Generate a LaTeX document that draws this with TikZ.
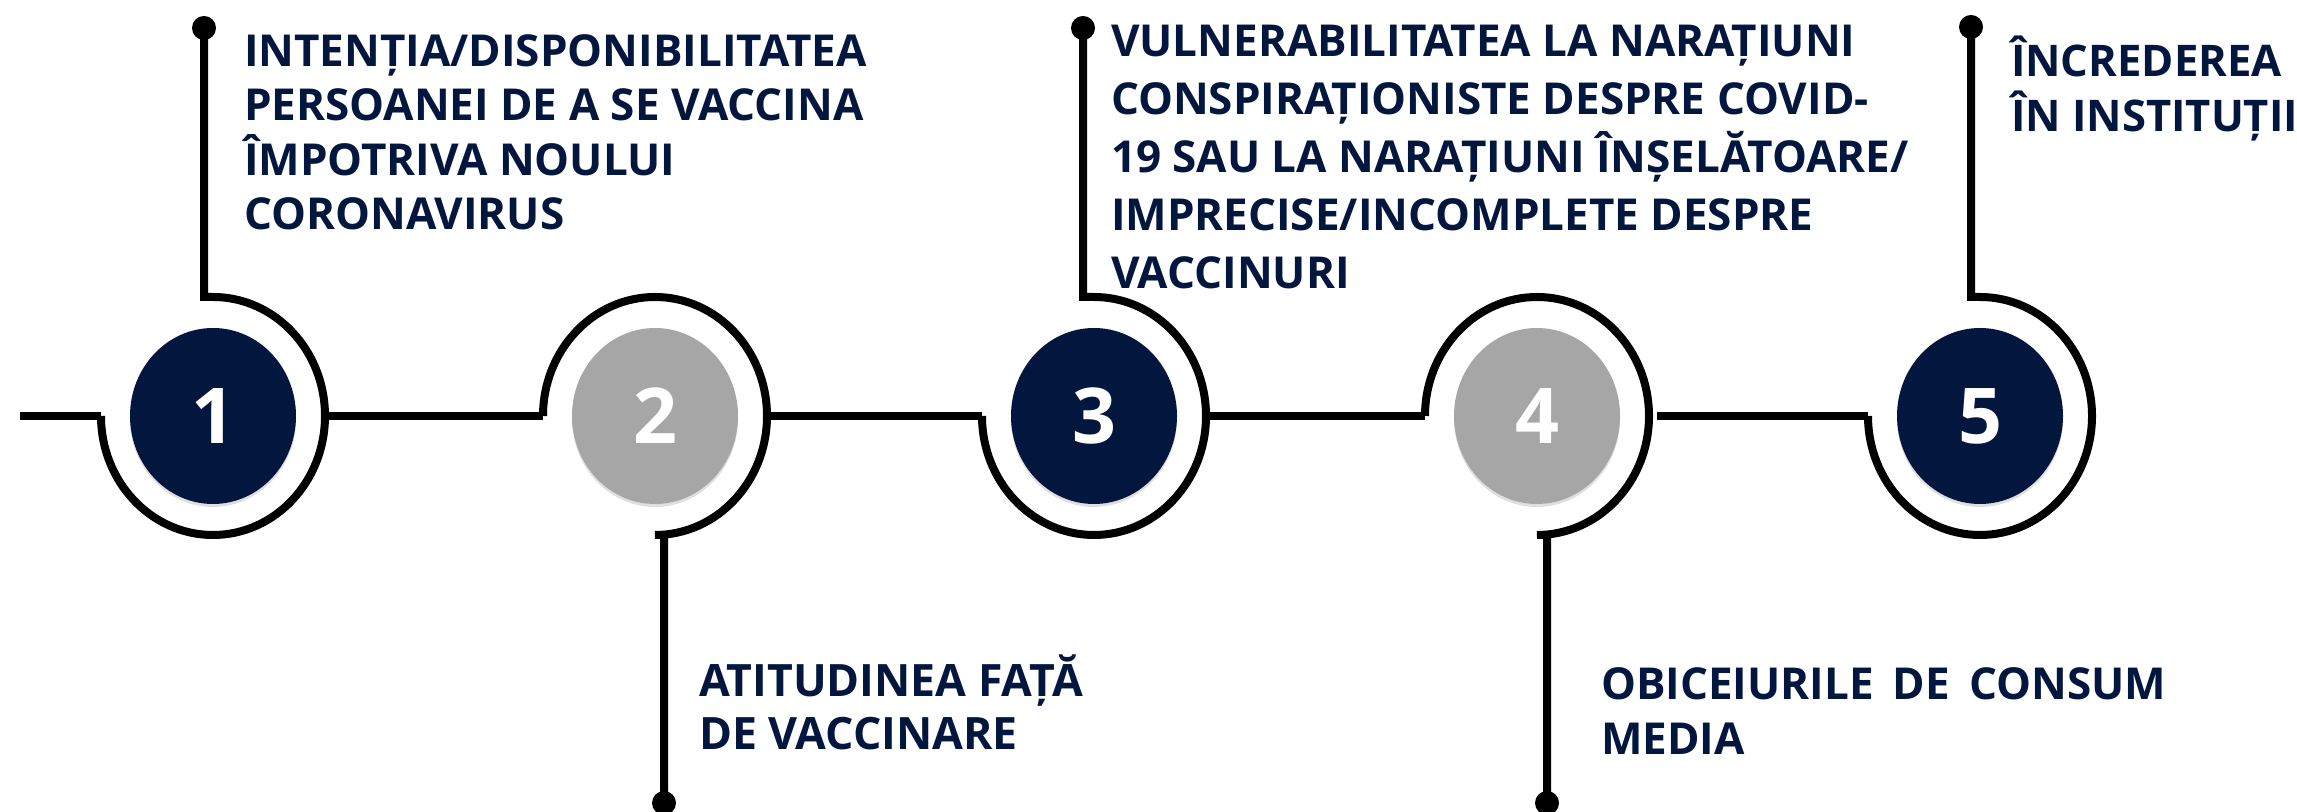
\documentclass[tikz,border=0pt]{standalone}
\usepackage{fontspec}
\setmainfont{Open Sans}
\usetikzlibrary{shapes.geometric,shadows}
\definecolor{navy}{HTML}{03173E}
\definecolor{stone}{HTML}{A6A6A6}

\begin{document}
\begin{tikzpicture}[x=0.5pt,y=0.5pt,line width=4pt]
  \tikzstyle{ring}=[ellipse,draw=none,inner sep=0pt,outer sep=0pt,
                    minimum width=112pt,minimum height=119pt]
  \tikzstyle{ball}=[ellipse,inner sep=0pt,minimum width=83pt,minimum height=88pt,
                    text=white,font=\fontsize{38.5}{40}\selectfont\bfseries,
                    drop shadow={opacity=.25,shadow xshift=0pt,shadow yshift=-1.5pt}]
  \tikzstyle{topic}=[anchor=base west,align=left,inner sep=0pt,text=navy,
                     font=\fontsize{22}{27.5}\selectfont\bfseries]

  \useasboundingbox (0,0) rectangle (2297,812);

  \node[ring] (R1) at (213,396) {};
  \node[ring] (R2) at (655,396) {};
  \node[ring] (R3) at (1094,396) {};
  \node[ring] (R4) at (1537,396) {};
  \node[ring] (R5) at (1980,396) {};

  \node[ball,fill=navy]  (C1) at (R1) {1};
  \node[ball,fill=stone] (C2) at (R2) {2};
  \node[ball,fill=navy]  (C3) at (R3) {3};
  \node[ball,fill=stone] (C4) at (R4) {4};
  \node[ball,fill=navy]  (C5) at (R5) {5};

  % ends of the line and the pins
  \coordinate (L0) at (20,396);
  \coordinate (D1) at (204,784);
  \coordinate (D2) at (664,9);
  \coordinate (D3) at (1083,784);
  \coordinate (D4) at (1547,9);
  \coordinate (D5) at (1971,785);

  \draw (L0) -- (R1.west);
  \draw (R1.east) -- (R2.west);
  \draw (R2.east) -- (R3.west);
  \draw (R3.east) -- (R4.west);
  \draw ([xshift=4pt]R4.east) -- (R5.west);

  \draw (R1.west) arc[start angle=180,end angle=450,x radius=56pt,y radius=59.5pt] -| (D1);
  \draw (R2.west) arc[start angle=180,end angle=-90,x radius=56pt,y radius=59.5pt] -| (D2);
  \draw (R3.west) arc[start angle=180,end angle=450,x radius=56pt,y radius=59.5pt] -| (D3);
  \draw (R4.west) arc[start angle=180,end angle=-90,x radius=56pt,y radius=59.5pt] -| (D4);
  \draw (R5.west) arc[start angle=180,end angle=450,x radius=56pt,y radius=59.5pt] -| (D5);

  \fill (D1) circle[radius=6pt];
  \fill (D2) circle[radius=6pt];
  \fill (D3) circle[radius=6pt];
  \fill (D4) circle[radius=6pt];
  \fill (D5) circle[radius=6pt];

  % base = last line of each text
  \node[topic,font=\fontsize{22}{27.25}\selectfont\bfseries] (T1) at (240,582)
    {INTENȚIA/DISPONIBILITATEA\\PERSOANEI DE A SE VACCINA\\ÎMPOTRIVA NOULUI\\CORONAVIRUS};
  \node[topic,font=\fontsize{22.3}{26.5}\selectfont\bfseries] (T2) at (695,62)
    {ATITUDINEA FAȚĂ\\DE VACCINARE};
  \node[topic,font=\fontsize{22}{29}\selectfont\bfseries] (T3) at (1107,523)
    {VULNERABILITATEA LA NARAȚIUNI\\CONSPIRAȚIONISTE DESPRE COVID-\\19 SAU LA NARAȚIUNI ÎNȘELĂTOARE/\\IMPRECISE/INCOMPLETE DESPRE\\VACCINURI};
  \node[topic] (T4) at (1597,57)
    {\makebox[282.5pt][s]{OBICEIURILE DE CONSUM}\\MEDIA};
  \node[topic,font=\fontsize{21.8}{27.5}\selectfont\bfseries] (T5) at (2007,680)
    {ÎNCREDEREA\\ÎN INSTITUȚII};
\end{tikzpicture}
\end{document}
